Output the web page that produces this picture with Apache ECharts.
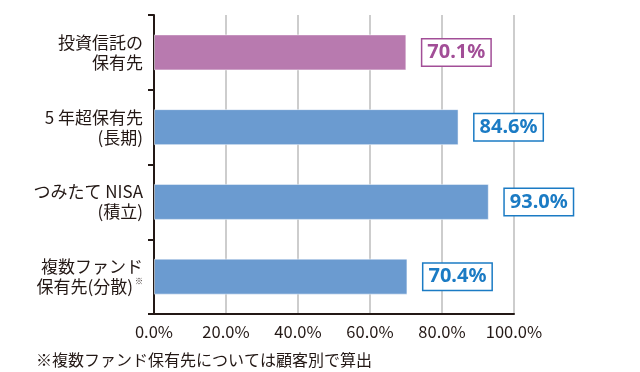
<!DOCTYPE html>
<html><head><meta charset="utf-8">
<script src="https://cdn.jsdelivr.net/npm/echarts@6/dist/echarts.min.js"></script>
<style>html,body{margin:0;padding:0;background:#fff}#c{width:640px;height:372px}</style>
</head><body><div id="c"></div>
<script>
const categories = ['投資信託の\n保有先', '5 年超保有先\n(長期)', 'つみたて NISA\n(積立)', '複数ファンド\n保有先(分散){s|※}'];
const values = [70.1, 84.6, 93.0, 70.4];
const barColors = ['#B87AAF', '#6B9BD0', '#6B9BD0', '#6B9BD0'];
const labelColors = ['#A24E97', '#1B7BC4', '#1B7BC4', '#1B7BC4'];
const xTicks = [0, 20, 40, 60, 80, 100];
const footnote = '※複数ファンド保有先については顧客別で算出';

const FONT = '"Noto Sans CJK JP", "Noto Sans", sans-serif';
const chart = echarts.init(document.getElementById('c'));
chart.setOption({
  animation: false,
  title: {
    text: footnote, left: 31, top: 347,
    textStyle: {fontFamily: FONT, fontSize: 16, fontWeight: 'normal', color: '#231815'}
  },
  grid: {left: 154, right: 126, top: 15, bottom: 58, containLabel: false},
  xAxis: {
    type: 'value', min: xTicks[0], max: xTicks[xTicks.length - 1], interval: 20,
    axisLine: {show: true, lineStyle: {color: '#231815', width: 2}},
    axisTick: {show: false},
    splitLine: {show: true, lineStyle: {color: '#BDBDBD', width: 1.5}},
    axisLabel: {
      fontFamily: FONT, fontSize: 16.5, color: '#231815', margin: 9,
      formatter: v => v.toFixed(1) + '%'
    }
  },
  yAxis: {
    type: 'category', data: categories, inverse: true,
    axisLine: {show: true, lineStyle: {color: '#231815', width: 2}},
    axisTick: {show: true, length: 6, lineStyle: {color: '#231815', width: 2}},
    axisLabel: {
      fontFamily: FONT, fontSize: 17, color: '#231815', margin: 11, lineHeight: 20, align: 'right',
      rich: {s: {fontSize: 8, verticalAlign: 'top', color: '#231815', fontFamily: FONT, padding: [0,0,8,2]}}
    }
  },
  series: [{
    type: 'bar', barWidth: 36,
    data: values.map((v, i) => ({
      value: v,
      itemStyle: {color: barColors[i], borderColor: 'rgba(255,255,255,0.5)', borderWidth: 1},
      label: {color: labelColors[i], borderColor: labelColors[i]}
    })),
    label: {
      show: true, position: 'right', distance: 16,
      fontFamily: '"Noto Sans", sans-serif', fontWeight: 'bold', fontSize: 20,
      backgroundColor: '#fff', borderWidth: 1.5, padding: [4, 5, 2, 5],
      formatter: p => p.value.toFixed(1) + '%'
    }
  }]
});
</script></body></html>
